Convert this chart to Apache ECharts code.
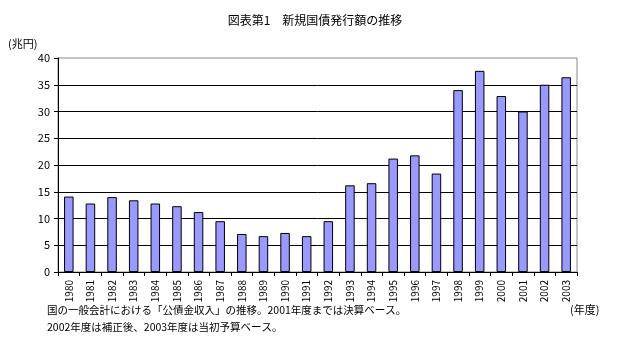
<!DOCTYPE html>
<html><head><meta charset="utf-8">
<script src="https://cdn.jsdelivr.net/npm/echarts@6/dist/echarts.min.js"></script>
<style>html,body{margin:0;padding:0;background:#fff}#c{width:630px;height:360px}</style>
</head><body><div id="c"></div>
<script>
const years = ['1980','1981','1982','1983','1984','1985','1986','1987','1988','1989','1990','1991','1992','1993','1994','1995','1996','1997','1998','1999','2000','2001','2002','2003'];
const issuance = [14.1,12.8,14.0,13.4,12.8,12.3,11.2,9.5,7.1,6.7,7.3,6.7,9.5,16.2,16.6,21.2,21.8,18.4,34.0,37.6,32.9,30.0,35.0,36.4];
const yTicks = [0,5,10,15,20,25,30,35,40];
const titleText = '図表第1　新規国債発行額の推移';
const yUnit = '(兆円)';
const xUnit = '(年度)';
const note1 = '国の一般会計における「公債金収入」の推移。2001年度までは決算ベース。';
const note2 = '2002年度は補正後、2003年度は当初予算ベース。';

const font = '"Noto Sans CJK JP", sans-serif';
const chart = echarts.init(document.getElementById('c'));
chart.setOption({
  animation: false,
  backgroundColor: '#fff',
  textStyle: {fontFamily: font, color: '#000'},
  graphic: [
    {type:'text', left: 'center', top: 14, style:{text: titleText, font: '12px ' + font, fill:'#000'}},
    {type:'text', left: 8, top: 38, style:{text: yUnit, font: '11px ' + font, fill:'#000'}},
    {type:'text', left: 570, top: 304, style:{text: xUnit, font: '11px ' + font, fill:'#000'}},
    {type:'text', left: 47, top: 305, style:{text: note1, font: '10.5px ' + font, fill:'#000'}},
    {type:'text', left: 47, top: 322, style:{text: note2, font: '10.5px ' + font, fill:'#000'}}
  ],
  grid: {left: 58, right: 53, top: 58, bottom: 88, show: true, borderColor: '#888', borderWidth: 1},
  xAxis: {
    type: 'category', data: years,
    axisLine: {lineStyle: {color: '#000', width: 1}},
    axisTick: {show: true, inside: false, length: 4, lineStyle: {color: '#000'}},
    axisLabel: {rotate: 90, fontSize: 10, color: '#000', margin: 8, fontFamily: font}
  },
  yAxis: {
    type: 'value', min: 0, max: 40, interval: 5,
    axisLine: {show: true, lineStyle: {color: '#000', width: 1}},
    axisTick: {show: true, length: 4, lineStyle: {color: '#000'}},
    axisLabel: {fontSize: 11, color: '#000', margin: 8, fontFamily: font,
      formatter: v => yTicks.includes(v) ? String(v) : ''},
    splitLine: {show: true, showMaxLine: false, lineStyle: {color: '#000', width: 1}}
  },
  series: [{
    type: 'bar', data: issuance, barWidth: '44%',
    itemStyle: {color: '#9999FF', borderColor: '#000', borderWidth: 1}
  }]
});
</script></body></html>
